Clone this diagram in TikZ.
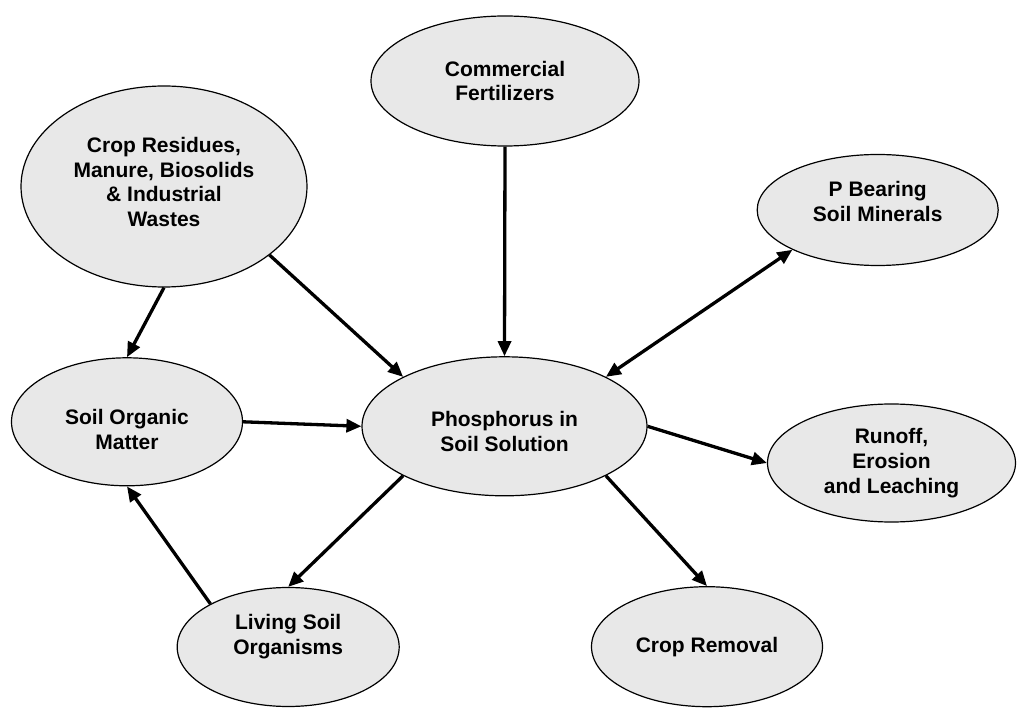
\documentclass[tikz,border=0pt]{standalone}
\usepackage{fontspec}
\setmainfont{Liberation Sans}
\usetikzlibrary{arrows.meta,shapes.geometric}
\definecolor{ellfill}{RGB}{232,232,232}
\begin{document}
\begin{tikzpicture}[x=1pt,y=-1pt,
  blob/.style={ellipse,draw=black,line width=1.2pt,fill=ellfill,inner sep=0pt,
    align=center,font=\fontsize{21}{24.7}\selectfont\bfseries},
  flow/.style={line width=3.3pt,-{Triangle[length=15pt,width=13pt]}},
  flow2/.style={line width=3.3pt,{Triangle[length=15pt,width=13pt]}-{Triangle[length=15pt,width=13pt]}}]
\useasboundingbox (0,0) rectangle (1018,708);
\node[blob,minimum width=268pt,minimum height=130pt] (cf) at (505,81) {Commercial\\Fertilizers};
\node[blob,minimum width=286pt,minimum height=201pt,text depth=9pt] (cr) at (164,186.5) {Crop Residues,\\Manure, Biosolids\\\& Industrial\\Wastes};
\node[blob,minimum width=241pt,minimum height=111pt,text depth=17pt] (pb) at (877.7,210) {P Bearing\\Soil Minerals};
\node[blob,minimum width=231pt,minimum height=128pt,text height=56pt] (som) at (127,421.8) {Soil Organic\\Matter};
\node[blob,minimum width=285pt,minimum height=139pt,text height=50pt] (ph) at (504.5,426.3) {Phosphorus in\\Soil Solution};
\node[blob,minimum width=248pt,minimum height=118pt] (ro) at (891.5,463) {Runoff,\\Erosion\\and Leaching};
\node[blob,minimum width=222pt,minimum height=119pt,text depth=25pt] (lso) at (288.2,647) {Living Soil\\Organisms};
\node[blob,minimum width=231pt,minimum height=120pt] (crm) at (707,646.7) {Crop Removal};
\draw[flow] (cf.south) -- (ph.north);
\draw[flow] (cr.south) -- (som.north);
\draw[flow] (cr.-33) -- (ph.154);
\draw[flow] (som.east) -- (ph.west);
\draw[flow2] (ph.26) -- (pb.205.3);
\draw[flow] (ph.east) -- (ro.west);
\draw[flow] (ph.-26) -- (crm.north);
\draw[flow] (ph.206.1) -- (lso.north);
\draw[flow] (lso.151.2) -- (som.south);
\end{tikzpicture}
\end{document}
